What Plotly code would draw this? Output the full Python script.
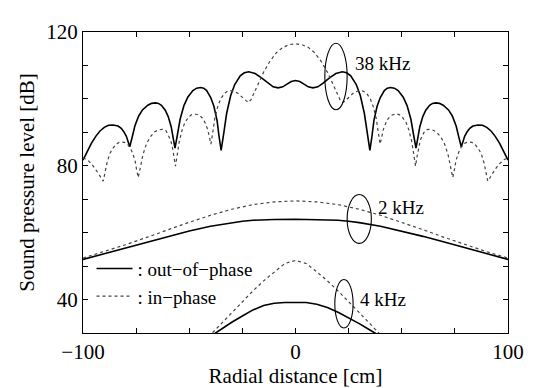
import plotly.graph_objects as go

# ---------------- data ----------------
x_38_out = [-100, -98.0, -96.0, -94.0, -92.0, -90.0, -88.0, -85.9, -84.7, -83.5, -82.0, -80.8, -79.6, -78.8, -78.0,
            -76.8, -75.6, -73.8, -72.0, -69.5, -67.7, -65.9, -64.5, -63.1, -61.3, -59.9, -58.5, -57.6, -56.7,
            -55.5, -54.3, -52.5, -50.7, -48.3, -46.5, -44.7, -43.2, -41.8, -39.9, -38.4, -36.9, -36.0, -35.0,
            -33.7, -32.4, -30.5, -28.6, -26.0, -24.1, -22.0, -19.0, -16.0, -13.0, -10.5, -8.2, -6.0, -4.0, -2.0,
            0,
            2.0, 4.0, 6.0, 8.2, 10.5, 13.0, 16.0, 19.0, 22.0, 24.1, 26.0, 28.6, 30.5, 32.4, 33.7,
            35.0, 36.0, 36.9, 38.4, 39.9, 41.8, 43.2, 44.7, 46.5, 48.3, 50.7, 52.5, 54.3, 55.5,
            56.7, 57.6, 58.5, 59.9, 61.3, 63.1, 64.5, 65.9, 67.7, 69.5, 72.0, 73.8, 75.6, 76.8,
            78.0, 78.8, 79.6, 80.8, 82.0, 83.5, 84.7, 85.9, 88.0, 90.0, 92.0, 94.0, 96.0, 98.0, 100]
y_38_out = [81.7, 84.3, 86.8, 88.8, 90.4, 91.5, 92.1, 92.2, 92.1, 91.9, 91.2, 90.2, 88.8, 87.2, 85.7,
            88.7, 91.9, 94.9, 96.7, 98.1, 98.65, 98.8, 98.65, 98.1, 96.6, 94.7, 91.7, 88.4, 85.3,
            89.5, 93.9, 98.0, 100.5, 102.5, 103.2, 103.4, 103.2, 102.5, 100.4, 97.8, 93.5, 88.9, 84.6,
            90.0, 95.7, 101.0, 104.3, 106.9, 107.8, 108.1, 107.6, 106.3, 104.7, 103.6, 103.3, 103.6, 104.4, 105.2,
            105.5,
            105.2, 104.4, 103.6, 103.3, 103.6, 104.7, 106.3, 107.6, 108.1, 107.8, 106.9, 104.3, 101.0, 95.7, 90.0,
            84.6, 88.9, 93.5, 97.8, 100.4, 102.5, 103.2, 103.4, 103.2, 102.5, 100.5, 98.0, 93.9, 89.5,
            85.3, 88.4, 91.7, 94.7, 96.6, 98.1, 98.65, 98.8, 98.65, 98.1, 96.7, 94.9, 91.9, 88.7,
            85.7, 87.2, 88.8, 90.2, 91.2, 91.9, 92.1, 92.2, 92.1, 91.5, 90.4, 88.8, 86.8, 84.3, 81.7]

x_38_in = [-100, -98.0, -96.0, -94.0, -92.5, -91.3, -90.5, -89.6, -88.7, -87.4, -86.0, -84.3, -83.0, -81.6,
           -80.5, -79.3, -77.8, -76.7, -75.5, -74.8, -74.0, -72.9, -71.8, -70.1, -68.4, -66.2, -64.5, -62.8,
           -61.9, -60.9, -59.7, -58.7, -57.8, -57.1, -56.5, -55.6, -54.7, -53.3, -52.0, -50.1, -48.8, -47.4,
           -46.3, -45.1, -43.6, -42.5, -41.3, -40.6, -39.8, -38.9, -38.0, -36.6, -35.3, -33.4, -32.0, -30.7,
           -29.0, -27.0, -25.0, -23.5, -22.2, -21.0, -19.0, -17.0, -15.0, -12.0, -9.0, -6.0, -3.0,
           0,
           3.0, 6.0, 9.0, 12.0, 15.0, 17.0, 19.0, 21.0, 22.2, 23.5, 25.0, 27.0, 29.0,
           30.7, 32.0, 33.4, 35.3, 36.6, 38.0, 38.9, 39.8, 40.6, 41.3, 42.5, 43.6, 45.1, 46.3,
           47.4, 48.8, 50.1, 52.0, 53.3, 54.7, 55.6, 56.5, 57.1, 57.8, 58.7, 59.7, 60.9, 61.9,
           62.8, 64.5, 66.2, 68.4, 70.1, 71.8, 72.9, 74.0, 74.8, 75.5, 76.7, 77.8, 79.3, 80.5,
           81.6, 83.0, 84.3, 86.0, 87.4, 88.7, 89.6, 90.5, 91.3, 92.5, 94.0, 96.0, 98.0, 100]
y_38_in = [82.4, 81.8, 80.6, 79.0, 77.5, 76.2, 75.4, 78.1, 80.9, 83.6, 85.2, 86.5, 87.0, 87.1,
           87.0, 86.6, 85.4, 83.9, 81.5, 78.9, 76.5, 79.8, 83.3, 86.6, 88.6, 90.2, 90.7, 90.9,
           90.8, 90.4, 89.1, 87.6, 85.1, 82.4, 79.9, 83.5, 87.3, 90.8, 93.0, 94.7, 95.3, 95.5,
           95.4, 95.1, 94.1, 92.8, 90.8, 88.6, 86.5, 90.1, 94.1, 97.7, 99.9, 101.7, 102.3, 102.5,
           102.3, 101.6, 100.4, 99.4, 98.9, 99.7, 102.5, 105.3, 108.0, 111.3, 113.8, 115.4, 116.2,
           116.5,
           116.2, 115.4, 113.8, 111.3, 108.0, 105.3, 102.5, 99.7, 98.9, 99.4, 100.4, 101.6, 102.3,
           102.5, 102.3, 101.7, 99.9, 97.7, 94.1, 90.1, 86.5, 88.6, 90.8, 92.8, 94.1, 95.1, 95.4,
           95.5, 95.3, 94.7, 93.0, 90.8, 87.3, 83.5, 79.9, 82.4, 85.1, 87.6, 89.1, 90.4, 90.8,
           90.9, 90.7, 90.2, 88.6, 86.6, 83.3, 79.8, 76.5, 78.9, 81.5, 83.9, 85.4, 86.6, 87.0,
           87.1, 87.0, 86.5, 85.2, 83.6, 80.9, 78.1, 75.4, 76.2, 77.5, 79.0, 80.6, 81.8, 82.4]

x_2_out = [-100, -90, -80, -70, -60, -50, -40, -30, -25, -20, -15, -10, 0, 10, 15, 20, 25, 30, 40, 50, 60, 70, 80, 90, 100]
y_2_out = [52.0, 53.7, 55.4, 57.2, 58.9, 60.5, 61.9, 63.0, 63.4, 63.7, 63.85, 63.95, 64.0,
           63.95, 63.85, 63.7, 63.4, 63.0, 61.9, 60.5, 58.9, 57.2, 55.4, 53.7, 52.0]

x_2_in = [-100, -90, -80, -70, -60, -50, -40, -30, -20, -10, 0, 10, 20, 30, 40, 50, 60, 70, 80, 90, 100]
y_2_in = [52.4, 54.3, 56.4, 58.6, 60.9, 63.1, 65.2, 67.0, 68.4, 69.2, 69.5,
          69.2, 68.4, 67.0, 65.2, 63.1, 60.9, 58.6, 56.4, 54.3, 52.4]

x_4_out = [-40, -35, -30, -25, -20, -15, -10, -5, 0, 5, 10, 15, 20, 25, 30, 35, 40]
y_4_out = [29.0, 31.2, 33.2, 35.1, 36.9, 38.2, 38.9, 39.1, 39.1, 39.1, 38.6, 37.6, 36.2, 34.6, 32.8, 30.9, 29.0]

x_4_in = [-41, -35, -30, -25, -20, -15, -10, -5, 0, 5, 10, 15, 20, 25, 30, 35, 41]
y_4_in = [28.8, 32.8, 36.1, 39.5, 42.6, 45.6, 48.3, 50.8, 51.7, 50.8, 48.3, 45.6, 42.6, 39.5, 36.1, 32.8, 28.8]

x_tick_vals = [-100, -75, -50, -25, 0, 25, 50, 75, 100]
x_tick_text = ["−100", "", "", "", "0", "", "", "", "100"]
y_tick_vals = [40, 50, 60, 70, 80, 90, 100, 110, 120]
y_tick_text = ["40", "", "", "", "80", "", "", "", "120"]

FONT = "Liberation Serif"
SOLID = dict(color="black", width=1.6)
DASH = dict(color="#444444", width=1.2, dash="3px,3px")

fig = go.Figure()
fig.add_trace(go.Scatter(x=x_38_out, y=y_38_out, mode="lines", line=SOLID, name=": out−of−phase", showlegend=True))
fig.add_trace(go.Scatter(x=x_38_in, y=y_38_in, mode="lines", line=DASH, name=": in−phase", showlegend=True))
fig.add_trace(go.Scatter(x=x_2_out, y=y_2_out, mode="lines", line=SOLID, showlegend=False))
fig.add_trace(go.Scatter(x=x_2_in, y=y_2_in, mode="lines", line=DASH, showlegend=False))
fig.add_trace(go.Scatter(x=x_4_out, y=y_4_out, mode="lines", line=SOLID, showlegend=False))
fig.add_trace(go.Scatter(x=x_4_in, y=y_4_in, mode="lines", line=DASH, showlegend=False))

# ellipses marking each frequency group
ell = dict(type="circle", xref="x", yref="y", line=dict(color="black", width=1.1))
fig.add_shape(x0=13.8, x1=24.3, y0=96.75, y1=116.65, **ell)
fig.add_shape(x0=24.3, x1=35.7, y0=56.8, y1=71.4, **ell)
fig.add_shape(x0=18.5, x1=27.1, y0=31.5, y1=46.0, **ell)

ann = dict(xref="x", yref="y", showarrow=False, xanchor="left", yanchor="middle",
           font=dict(family=FONT, size=19, color="black"))
fig.add_annotation(x=27.1, y=110.6, text="38 kHz", **ann)
fig.add_annotation(x=38.0, y=67.6, text="2 kHz", **ann)
fig.add_annotation(x=29.4, y=40.1, text="4 kHz", **ann)

axis_common = dict(showline=True, linecolor="black", linewidth=1, mirror="ticks",
                   ticks="inside", ticklen=5, tickcolor="black", tickwidth=1,
                   showgrid=False, zeroline=False,
                   tickfont=dict(family=FONT, size=21, color="black"))
fig.update_xaxes(range=[-100, 100], tickmode="array", tickvals=x_tick_vals, ticktext=x_tick_text,
                 title=dict(text="Radial distance [cm]", font=dict(family=FONT, size=21, color="black"), standoff=5),
                 **axis_common)
fig.update_yaxes(range=[30, 120], tickmode="array", tickvals=y_tick_vals, ticktext=y_tick_text,
                 title=dict(text="Sound pressure level [dB]", font=dict(family=FONT, size=21, color="black"), standoff=5),
                 **axis_common)

fig.update_layout(
    width=541, height=388,
    margin=dict(l=75, r=41, t=21, b=54),
    plot_bgcolor="white", paper_bgcolor="white",
    font=dict(family=FONT, color="black"),
    legend=dict(x=0.02, y=0.277, xanchor="left", yanchor="top", bgcolor="rgba(0,0,0,0)",
                font=dict(family=FONT, size=19, color="black"), itemwidth=36,
                tracegroupgap=0),
)

fig.write_html("out.html")
